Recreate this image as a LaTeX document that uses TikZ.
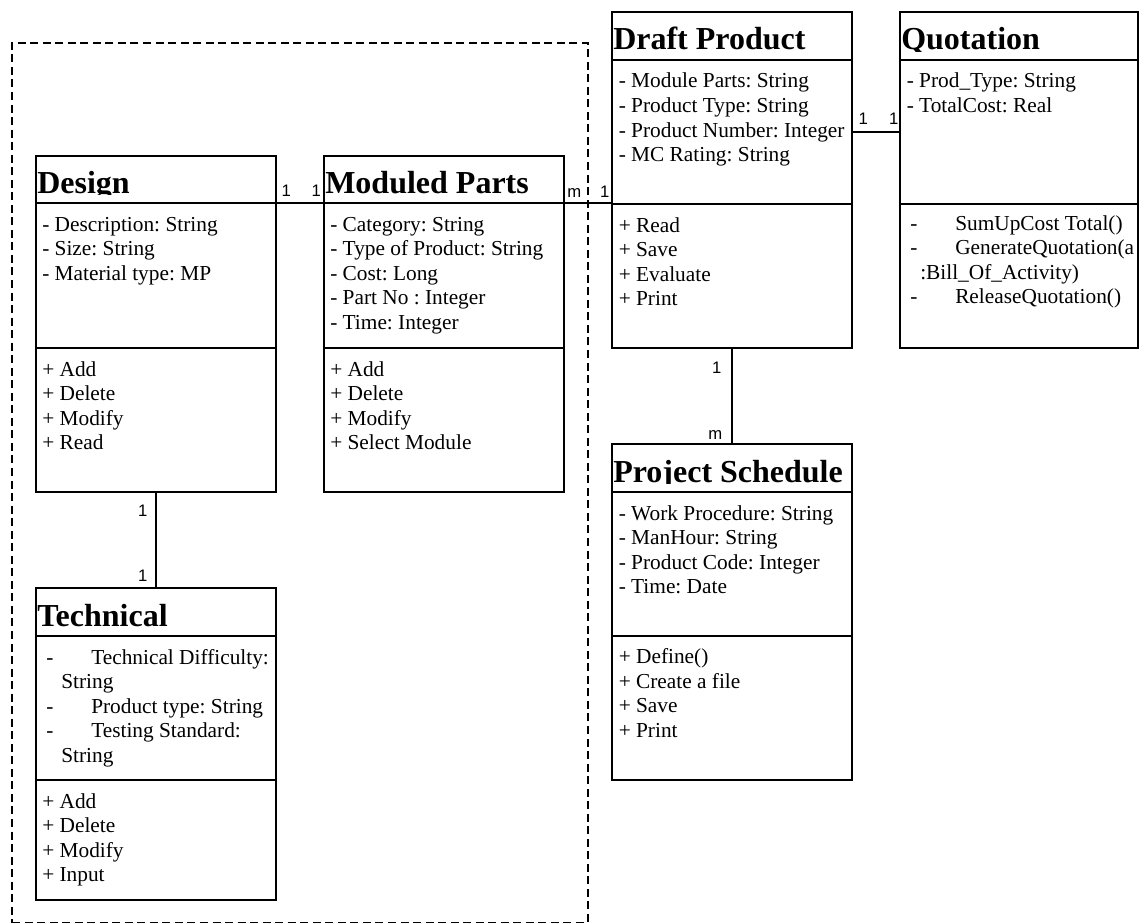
\documentclass[tikz,border=0pt]{standalone}
\usepackage{fontspec}
\setmainfont{Liberation Serif}
\newfontfamily\multfont{Liberation Sans}
\usetikzlibrary{fit}
\frenchspacing

\tikzset{
  part/.style={draw, line width=1.5pt, inner sep=0pt, outer sep=0pt},
  classname/.style={font=\fontsize{24}{28}\selectfont\bfseries, inner sep=0pt, anchor=base west},
  members/.style={font=\fontsize{16}{18.45}\selectfont, inner sep=0pt, anchor=base west},
  assoc/.style={line width=1.5pt},
  mult/.style={font=\multfont\fontsize{12.5}{14}\selectfont, inner sep=0pt, anchor=base},
  pkg/.style={draw, line width=1.4pt, dash pattern=on 6pt off 3.4pt, inner sep=0pt, outer sep=0pt},
}

% a block of member lines whose baseline is that of its first line
\newcommand\memberlist[1]{\begin{minipage}[t]{190pt}\raggedright #1\end{minipage}}

% class box: name, left, right, top, header line, separator, bottom, title
\newcommand\classframe[8]{%
  \node[part, fit={(#2,#4) (#3,#5)}] (#1-title) {};
  \node[part, fit={(#2,#5) (#3,#6)}] (#1-attr) {};
  \node[part, fit={(#2,#6) (#3,#7)}] (#1-ops) {};
  \begin{scope}
    \clip (#2,#4) rectangle (#3,#5-8.5);
    \node[classname] (#1-name) at (#2+1,#5-10) {#8};
  \end{scope}
}

\begin{document}
\begin{tikzpicture}[x=0.75pt, y=-0.75pt]
\useasboundingbox (0,0) rectangle (1140,924);

% package boundary
\node[pkg, fit={(12,43) (588,922.5)}] (pkg) {};

% class boxes
\classframe{design}{36}{276}{156}{203}{348}{492}{Design}
\classframe{parts}{324}{564}{156}{203}{348}{492}{Moduled Parts}
\classframe{tech}{36}{276}{588}{636}{780}{900}{Technical}
\classframe{draft}{612}{852}{12}{60}{204}{348}{Draft Product}
\classframe{quote}{900}{1138}{12}{60}{204}{348}{Quotation}
\classframe{sched}{612}{852}{444}{492}{636}{780}{Project Schedule}

% members
\node[members] (design-attrs) at (42,231) {\memberlist{- Description: String\\- Size: String\\- Material type: MP}};
\node[members] (design-meths) at (42,376) {\memberlist{+ Add\\+ Delete\\+ Modify\\+ Read}};

\node[members] (parts-attrs) at (330,231) {\memberlist{- Category: String\\- Type of Product: String\\- Cost: Long\\- Part No : Integer\\- Time: Integer}};
\node[members] (parts-meths) at (330,376) {\memberlist{+ Add\\+ Delete\\+ Modify\\+ Select Module}};

\node[members] (tech-attrs) at (46,664) {\memberlist{%
  \makebox[33.75pt][l]{-}Technical Difficulty:\\
  \hspace*{11.25pt}String\\
  \makebox[33.75pt][l]{-}Product type: String\\
  \makebox[33.75pt][l]{-}Testing Standard:\\
  \hspace*{11.25pt}String}};
\node[members] (tech-meths) at (42,808) {\memberlist{+ Add\\+ Delete\\+ Modify\\+ Input}};

\node[members] (draft-attrs) at (618.5,88) {\memberlist{- Module Parts: String\\- Product Type: String\\- Product Number: Integer\\- MC Rating: String}};
\node[members] (draft-meths) at (618.5,232) {\memberlist{+ Read\\+ Save\\+ Evaluate\\+ Print}};

\node[members] (quote-attrs) at (906.5,88) {\memberlist{- Prod\_Type: String\\- TotalCost: Real}};
\node[members] (quote-meths) at (910,230) {\memberlist{%
  \makebox[33.75pt][l]{-}SumUpCost Total()\\
  \makebox[33.75pt][l]{-}GenerateQuotation(a\\
  \hspace*{7.5pt}:Bill\_Of\_Activity)\\
  \makebox[33.75pt][l]{-}ReleaseQuotation()}};

\node[members] (sched-attrs) at (618.5,520) {\memberlist{- Work Procedure: String\\- ManHour: String\\- Product Code: Integer\\- Time: Date}};
\node[members] (sched-meths) at (618.5,663.5) {\memberlist{+ Define()\\+ Create a file\\+ Save\\+ Print}};

% associations
\draw[assoc] (design-title.south east) -- (parts-title.south west);
\draw[assoc] (parts-title.south east) -- (parts-title.south east -| draft-attr.west);
\draw[assoc] (draft-attr.east) -- (quote-attr.west);
\draw[assoc] (design-ops.south) -- (tech-title.north);
\draw[assoc] (draft-ops.south) -- (sched-title.north);

% multiplicities
\node[mult] (m-dp-a) at (286.2,196.7) {1};
\node[mult] (m-dp-b) at (316.2,196.7) {1};
\node[mult] (m-pd-a) at (574.3,197.3) {m};
\node[mult] (m-pd-b) at (604.7,197.3) {1};
\node[mult] (m-dq-a) at (863.3,125) {1};
\node[mult] (m-dq-b) at (893.7,125) {1};
\node[mult] (m-dt-a) at (142.7,516) {1};
\node[mult] (m-dt-b) at (142.7,581.7) {1};
\node[mult] (m-ds-a) at (716.7,373.3) {1};
\node[mult] (m-ds-b) at (715.3,439.3) {m};
\end{tikzpicture}
\end{document}
